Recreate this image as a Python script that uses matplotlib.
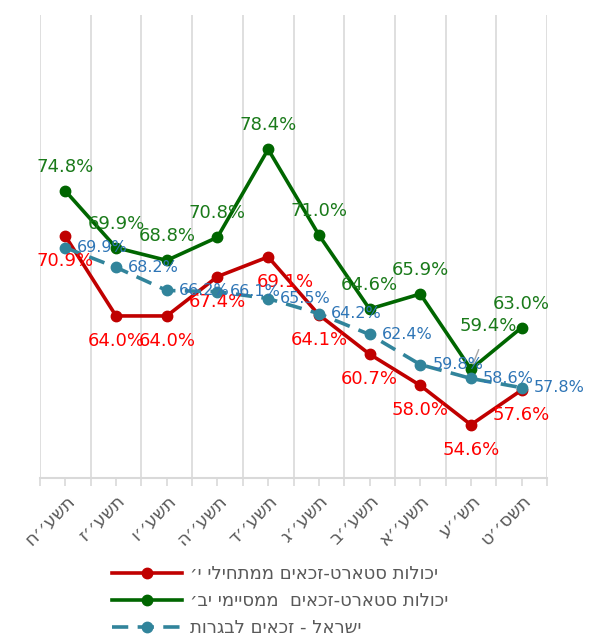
import matplotlib
matplotlib.use("Agg")
import matplotlib.pyplot as plt
import numpy as np
from matplotlib.ticker import FixedLocator

plt.rcParams["font.family"] = ["DejaVu Sans", "Noto Sans"]


def rtl(s):
    # matplotlib has no bidi support: reverse Hebrew strings for display
    return s[::-1]


years = ["תשע׳׳ח", "תשע׳׳ז", "תשע׳׳ו", "תשע׳׳ה", "תשע׳׳ד",
         "תשע׳׳ג", "תשע׳׳ב", "תשע׳׳א", "תש׳׳ע", "תשס׳׳ט"]
start_10 = [70.9, 64.0, 64.0, 67.4, 69.1, 64.1, 60.7, 58.0, 54.6, 57.6]
start_12 = [74.8, 69.9, 68.8, 70.8, 78.4, 71.0, 64.6, 65.9, 59.4, 63.0]
israel = [69.9, 68.2, 66.2, 66.1, 65.5, 64.2, 62.4, 59.8, 58.6, 57.8]

names = ["יכולות סטארט-זכאים ממתחילי י׳",
         "יכולות סטארט-זכאים  ממסיימי יב׳",
         "ישראל - זכאים לבגרות"]

x = np.arange(len(years))
PX = 0.72  # points per pixel at dpi 100

fig = plt.figure(figsize=(5.9, 6.37), dpi=100)
ax = fig.add_axes([40 / 590, 1 - 478 / 637, (547 - 40) / 590, (478 - 15) / 637])

l1, = ax.plot(x, start_10, color="#C00000", lw=2.6, marker="o", ms=7.5, zorder=3)
l2, = ax.plot(x, start_12, color="#006600", lw=2.6, marker="o", ms=7.5, zorder=4)
l3, = ax.plot(x, israel, color="#31849B", lw=2.6, marker="o", ms=7.5,
              dashes=(4.5, 2.6), zorder=5)

# data labels
for i, v in enumerate(start_12):
    if i == 8:
        ax.annotate(f"{v:.1f}%", (i, v), xytext=(17 * PX, 43 * PX),
                    textcoords="offset points", ha="center", va="center",
                    fontsize=13, color="#1A7A1A", zorder=6,
                    arrowprops=dict(arrowstyle="-", color="#A6A6A6", lw=1,
                                    shrinkA=9, shrinkB=4))
    else:
        ax.annotate(f"{v:.1f}%", (i, v), xytext=(0, 24 * PX),
                    textcoords="offset points", ha="center", va="center",
                    fontsize=13, color="#1A7A1A", zorder=6)

for i, v in enumerate(start_10):
    dx = 17 if i == 4 else 0
    ax.annotate(f"{v:.1f}%", (i, v), xytext=(dx * PX, -25 * PX),
                textcoords="offset points", ha="center", va="center",
                fontsize=13, color="#FF0000", zorder=6)

for i, v in enumerate(israel):
    ax.annotate(f"{v:.1f}%", (i, v), xytext=(12 * PX, 0),
                textcoords="offset points", ha="left", va="center",
                fontsize=11.5, color="#2E75B6", zorder=6)

ax.set_xlim(-0.5, len(years) - 0.5)
ax.set_ylim(50, 90)

ax.set_xticks(x)
ax.set_xticklabels([rtl(y) for y in years], rotation=45, ha="right",
                   va="top", rotation_mode="anchor", fontsize=13, color="#595959")
ax.xaxis.set_minor_locator(FixedLocator(np.arange(-0.5, len(years), 1.0)))
ax.tick_params(axis="x", which="both", direction="out", length=6,
               width=1.2, color="#D9D9D9", pad=4)
ax.grid(axis="x", which="minor", color="#D9D9D9", lw=1.2)
ax.set_yticks([])
for s in ["top", "right", "left"]:
    ax.spines[s].set_visible(False)
ax.spines["bottom"].set_color("#D9D9D9")
ax.spines["bottom"].set_linewidth(1.5)

fig.legend([l1, l2, l3], [rtl(n) for n in names], loc="center",
           bbox_to_anchor=(0.475, 0.0565), frameon=False, fontsize=13,
           handlelength=3.9, handletextpad=0.45, labelspacing=0.5,
           labelcolor="#595959")

fig.savefig("out.png", dpi=100)
